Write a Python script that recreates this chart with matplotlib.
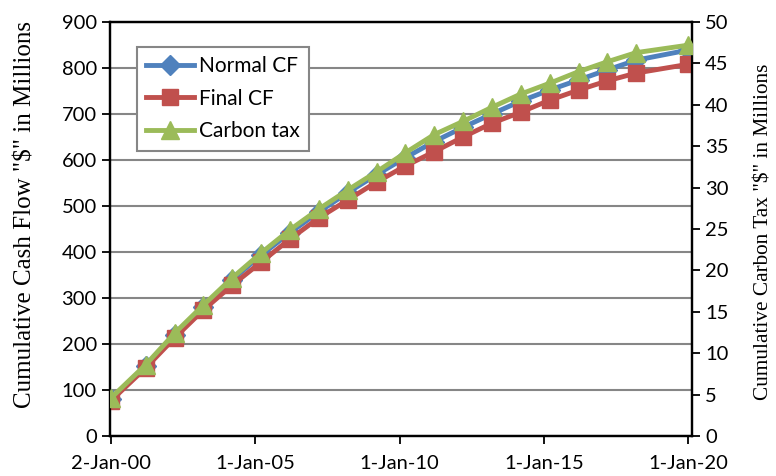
import datetime as dt
import matplotlib
matplotlib.use("Agg")
import matplotlib.pyplot as plt
import matplotlib.dates as mdates
from matplotlib.ticker import FuncFormatter, MultipleLocator

# yearly points: first at start of 2000, mid-years in March, last at start of 2020
dates = [dt.date(2000, 1, 2)] + [dt.date(y, 3, 15) for y in range(2001, 2019)] + [dt.date(2020, 1, 1)]

normal_cf = [80, 152, 220, 281, 340, 393, 442, 487, 529, 568,
             605, 640, 671, 700, 728, 752, 774, 796, 817, 839]
final_cf = [77, 148, 213, 274, 328, 378, 428, 474, 513, 552,
            587, 618, 650, 680, 704, 730, 752, 772, 789, 808]
carbon_tax = [4.6, 8.6, 12.4, 15.8, 19.1, 22.1, 24.9, 27.4, 29.7, 31.9,
              34.2, 36.4, 38.0, 39.7, 41.3, 42.6, 44.0, 45.2, 46.3, 47.2]

tick_dates = [dt.date(2000, 1, 2), dt.date(2005, 1, 1), dt.date(2010, 1, 1),
              dt.date(2015, 1, 1), dt.date(2020, 1, 1)]

blue = "#4F81BD"
red = "#C0504D"
green = "#9BBB59"
tick_font = "Lato"
label_font = "Liberation Serif"

fig = plt.figure(figsize=(7.76, 4.76), dpi=100)
ax = fig.add_axes([0.1418, 0.084, 0.75, 0.8698])
ax2 = ax.twinx()

l1, = ax.plot(dates, normal_cf, color=blue, lw=3.5, marker="D", ms=10,
              label="Normal CF", zorder=3)
l2, = ax.plot(dates, final_cf, color=red, lw=3.5, marker="s", ms=12,
              label="Final CF", zorder=4)
l3, = ax2.plot(dates, carbon_tax, color=green, lw=3.5, marker="^", ms=13,
               label="Carbon tax", zorder=5)

ax.set_ylim(0, 900)
ax2.set_ylim(0, 50)
ax.yaxis.set_major_locator(MultipleLocator(100))
ax2.yaxis.set_major_locator(MultipleLocator(5))
ax.set_xlim(dt.date(1999, 12, 20), dt.date(2020, 2, 20))
ax.set_xticks(tick_dates)
ax.xaxis.set_major_formatter(FuncFormatter(
    lambda v, p: "{}-{}".format(mdates.num2date(v).day, mdates.num2date(v).strftime("%b-%y"))))

ax.grid(axis="y", color="#868686", lw=1.5)
ax.set_axisbelow(True)

for a in (ax, ax2):
    for s in a.spines.values():
        s.set_linewidth(1.6)
    a.tick_params(width=1.3, length=6, direction="out", labelsize=14.5)
    for t in a.get_xticklabels() + a.get_yticklabels():
        t.set_fontfamily(tick_font)
ax.tick_params(axis="x", pad=8)

ax.set_ylabel('Cumulative Cash Flow "$" in Millions', fontfamily=label_font,
              fontsize=18)
ax.yaxis.set_label_coords(-0.127, 0.535)
ax2.set_ylabel('Cumulative Carbon Tax "$" in Millions', fontfamily=label_font,
               fontsize=15.3, rotation=90)
ax2.yaxis.set_label_coords(1.108, 0.493)

leg = ax2.legend(handles=[l1, l2, l3], loc="upper left",
                 bbox_to_anchor=(0.046, 0.94), fancybox=False, framealpha=1,
                 edgecolor="#868686", prop={"family": tick_font, "size": 15},
                 handlelength=2.3, handletextpad=0.25, borderpad=0.45,
                 labelspacing=0.6, borderaxespad=0)
leg.get_frame().set_linewidth(1.5)

fig.savefig("out.png", dpi=100)
